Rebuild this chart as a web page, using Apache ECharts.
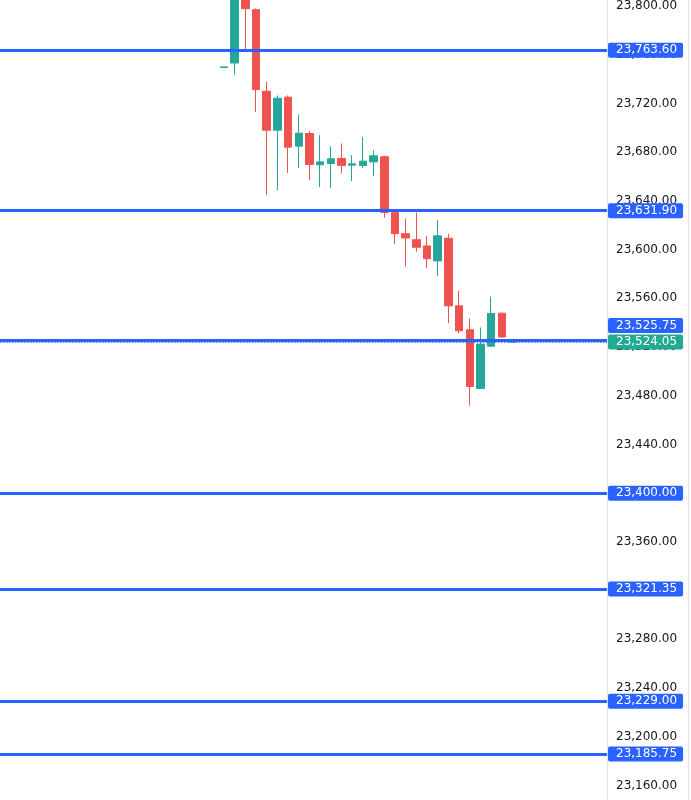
<!DOCTYPE html>
<html>
<head>
<meta charset="utf-8">
<script src="https://cdn.jsdelivr.net/npm/echarts@6/dist/echarts.min.js"></script>
<style>
  html, body { margin: 0; padding: 0; background: #fff; }
  #main { width: 691px; height: 800px; }
</style>
</head>
<body>
<div id="main"></div>
<script>
// candles, left to right (bar index = position on the time axis)
var opens  = [23749.6, 23753.2, 23810.0, 23797.0, 23730.0, 23698.0, 23725.1, 23684.9, 23695.3, 23669.6,
              23670.7, 23674.8, 23669.3, 23669.1, 23672.0, 23676.2, 23630.3, 23613.0, 23608.1, 23603.0,
              23590.7, 23609.3, 23553.8, 23534.1, 23486.0, 23520.6, 23547.8, 23524.05];
var closes = [23750.0, 23815.0, 23797.8, 23731.4, 23698.0, 23724.3, 23684.1, 23695.6, 23669.9, 23672.0,
              23674.5, 23669.1, 23670.4, 23672.6, 23677.0, 23630.5, 23613.0, 23609.5, 23601.9, 23592.5,
              23611.3, 23553.8, 23533.3, 23487.6, 23522.4, 23547.6, 23528.2, 23524.3];
var lows   = [23749.6, 23743.7, 23764.2, 23713.0, 23645.0, 23648.6, 23663.0, 23667.0, 23656.8, 23651.3,
              23650.7, 23662.5, 23656.2, 23667.0, 23660.3, 23626.1, 23604.8, 23586.3, 23598.3, 23584.7,
              23578.6, 23539.6, 23531.1, 23471.8, 23485.5, 23520.2, 23527.8, 23524.05];
var highs  = [23750.0, 23822.0, 23815.0, 23798.0, 23738.0, 23726.5, 23726.5, 23710.9, 23697.2, 23693.9,
              23684.9, 23687.1, 23677.5, 23692.5, 23681.4, 23677.2, 23632.5, 23625.7, 23630.3, 23611.3,
              23624.1, 23613.0, 23566.1, 23543.4, 23536.0, 23561.4, 23548.2, 23524.3];

// drawn horizontal levels
var levels = [23763.60, 23631.90, 23525.75, 23400.00, 23321.35, 23229.00, 23185.75];
var lastPrice = 23524.05;

// price scale
var yMin = 23160, yMax = 23800, yStep = 40;

var FONT = 'DejaVu Sans';
var BLUE = '#2962ff';
var UP = '#26a69a';
var DOWN = '#ef5350';

function fmt(v) {
  var s = v.toFixed(2);
  var parts = s.split('.');
  parts[0] = parts[0].replace(/\B(?=(\d{3})+(?!\d))/g, ',');
  return parts.join('.');
}

var candles = opens.map(function (o, i) {
  return [i, o, closes[i], lows[i], highs[i]];
});

var lineData = levels.map(function (v) {
  var item = { yAxis: v };
  if (v === 23525.75) {
    // pushed up so it does not sit on the last price tag
    item.label = {
      formatter: '{a|' + fmt(v) + '}',
      verticalAlign: 'bottom',
      backgroundColor: 'transparent',
      padding: [0, 0, 7, 0],
      rich: {
        a: {
          backgroundColor: BLUE, color: '#fff', fontFamily: FONT, fontSize: 12,
          padding: [2, 6, 1, 8], borderRadius: 2
        }
      }
    };
  }
  return item;
});
lineData.push({
  yAxis: lastPrice,
  lineStyle: { type: 'dotted', width: 1.5, color: BLUE },
  label: { backgroundColor: '#22ab94' }
});

var chart = echarts.init(document.getElementById('main'));
chart.setOption({
  backgroundColor: '#fff',
  animation: false,
  grid: { left: 0, right: 84, top: 4.6, bottom: 14.6 },
  xAxis: {
    type: 'value',
    min: -20.96,
    max: 35.84,
    show: false
  },
  yAxis: {
    type: 'value',
    position: 'right',
    min: yMin,
    max: yMax,
    interval: yStep,
    scale: true,
    axisLine: { show: false },
    axisTick: { show: false },
    splitLine: { show: false },
    axisLabel: {
      margin: 9,
      color: '#131722',
      fontFamily: FONT,
      fontSize: 12,
      formatter: function (v) { return fmt(v); }
    }
  },
  graphic: [
    { type: 'line', z: -1, shape: { x1: 607.5, y1: 0, x2: 607.5, y2: 800 }, style: { stroke: '#e0e3eb', lineWidth: 1 } },
    { type: 'line', z: -1, shape: { x1: 688.5, y1: 0, x2: 688.5, y2: 800 }, style: { stroke: '#e0e3eb', lineWidth: 1 } }
  ],
  series: [{
    type: 'candlestick',
    data: candles,
    encode: { x: 0, y: [1, 2, 3, 4] },
    barWidth: 8,
    clip: false,
    itemStyle: {
      color: UP, color0: DOWN,
      borderColor: UP, borderColor0: DOWN,
      borderWidth: 1
    },
    markLine: {
      silent: true,
      symbol: ['none', 'none'],
      precision: 2,
      lineStyle: { color: BLUE, width: 3, type: 'solid' },
      label: {
        show: true,
        position: 'end',
        distance: 1,
        formatter: function (p) { return fmt(p.value); },
        color: '#fff',
        fontFamily: FONT,
        fontSize: 12,
        backgroundColor: BLUE,
        padding: [2, 6, 1, 8],
        borderRadius: 2
      },
      emphasis: { disabled: true },
      data: lineData
    }
  }]
});
</script>
</body>
</html>
